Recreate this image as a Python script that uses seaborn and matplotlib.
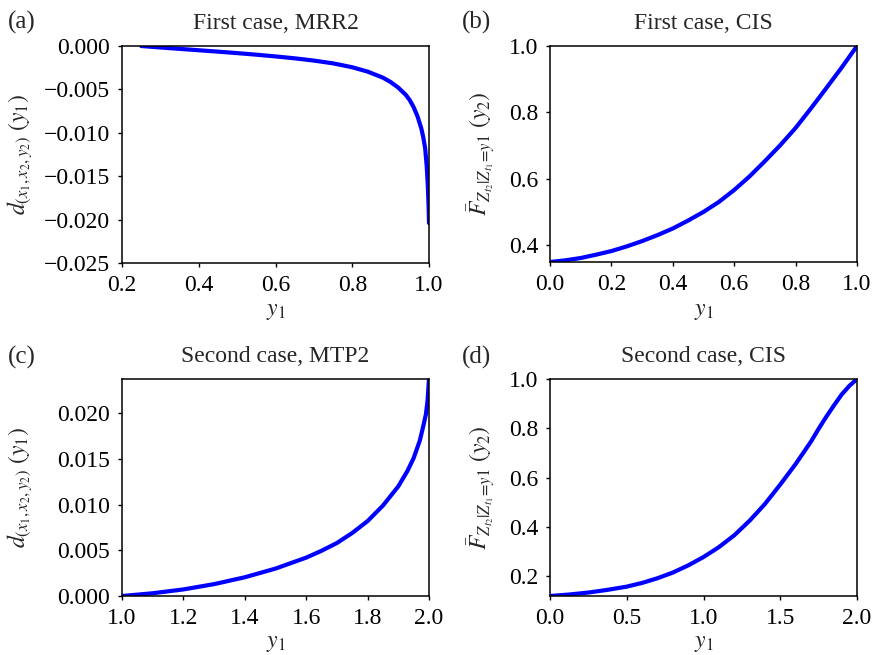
import numpy as np
import pandas as pd
import matplotlib
matplotlib.use("Agg")
import matplotlib.pyplot as plt
import seaborn as sns

# ---- data ----
a_y1 = [0.25, 0.30, 0.35, 0.40, 0.45, 0.50, 0.55, 0.60, 0.65, 0.70, 0.75, 0.80, 0.84,
        0.88, 0.90, 0.92, 0.94, 0.95, 0.96, 0.97, 0.98, 0.985, 0.99, 0.994, 0.997, 0.999, 1.0]
a_d = [0.0, -0.00017, -0.00033, -0.00049, -0.00065, -0.00082, -0.00100, -0.00120, -0.00142,
       -0.00168, -0.00200, -0.00245, -0.00295, -0.00365, -0.00415, -0.00480, -0.00565,
       -0.00625, -0.00705, -0.00810, -0.00950, -0.01050, -0.01180, -0.01380, -0.01620,
       -0.01850, -0.02040]

b_y1 = [0.0, 0.05, 0.1, 0.15, 0.2, 0.25, 0.3, 0.35, 0.4, 0.45, 0.5, 0.55, 0.6, 0.65,
        0.7, 0.75, 0.8, 0.85, 0.9, 0.95, 1.0]
b_F = [0.349, 0.354, 0.361, 0.371, 0.382, 0.396, 0.412, 0.430, 0.450, 0.474, 0.500,
       0.530, 0.566, 0.607, 0.653, 0.701, 0.753, 0.812, 0.873, 0.935, 1.0]

c_y1 = [1.0, 1.1, 1.2, 1.3, 1.4, 1.5, 1.6, 1.65, 1.7, 1.75, 1.8, 1.85, 1.9, 1.93, 1.95,
        1.97, 1.98, 1.99, 1.995, 2.0]
c_d = [0.0, 0.00030, 0.00072, 0.00130, 0.00205, 0.00300, 0.00420, 0.00495, 0.00580,
       0.00690, 0.00820, 0.00990, 0.01200, 0.01370, 0.01510, 0.01700, 0.01840, 0.01990,
       0.02130, 0.02375]

d_y1 = [0.0, 0.125, 0.25, 0.375, 0.5, 0.6, 0.7, 0.8, 0.9, 1.0, 1.1, 1.2, 1.3, 1.4, 1.5,
        1.6, 1.7, 1.75, 1.8, 1.85, 1.9, 1.95, 2.0]
d_F = [0.120, 0.126, 0.134, 0.145, 0.158, 0.173, 0.192, 0.215, 0.244, 0.278, 0.318,
       0.366, 0.425, 0.493, 0.572, 0.655, 0.746, 0.798, 0.847, 0.893, 0.937, 0.972, 1.0]

titles = ["First case, MRR2", "First case, CIS", "Second case, MTP2", "Second case, CIS"]
panel_tags = ["(a)", "(b)", "(c)", "(d)"]
ylab_d = r"$d_{(x_1,x_2,y_2)}\ (y_1)$"
ylab_F = r"$\bar{F}_{Z_{t_2}|Z_{t_1}\!=\!y1}\ (y_2)$"
xlab = r"$y_1$"

a_xticks = [0.2, 0.4, 0.6, 0.8, 1.0]
a_yticks = [0.0, -0.005, -0.010, -0.015, -0.020, -0.025]
b_xticks = [0.0, 0.2, 0.4, 0.6, 0.8, 1.0]
b_yticks = [0.4, 0.6, 0.8, 1.0]
c_xticks = [1.0, 1.2, 1.4, 1.6, 1.8, 2.0]
c_yticks = [0.0, 0.005, 0.010, 0.015, 0.020]
d_xticks = [0.0, 0.5, 1.0, 1.5, 2.0]
d_yticks = [0.2, 0.4, 0.6, 0.8, 1.0]

# ---- style ----
sns.set_theme(style="ticks")
plt.rcParams["font.family"] = ["Liberation Serif", "DejaVu Serif"]
plt.rcParams["mathtext.fontset"] = "stix"
plt.rcParams["axes.edgecolor"] = "black"
plt.rcParams["axes.linewidth"] = 1.1
plt.rcParams["xtick.color"] = "black"
plt.rcParams["ytick.color"] = "black"
plt.rcParams["xtick.major.size"] = 3
plt.rcParams["ytick.major.size"] = 3
plt.rcParams["xtick.major.width"] = 1.0
plt.rcParams["ytick.major.width"] = 1.0

fig = plt.figure(figsize=(8.75, 6.55), dpi=100)
W, H = 875.0, 655.0

def box(l, t, r, b):
    return [l / W, 1 - b / H, (r - l) / W, (b - t) / H]

boxes = [(122, 46, 429, 263), (550, 46, 857, 262), (122, 379, 429, 596), (550, 379, 857, 596)]
axes = [fig.add_axes(box(*b)) for b in boxes]

series = [(a_y1, a_d), (b_y1, b_F), (c_y1, c_d), (d_y1, d_F)]
xlims = [(0.2, 1.0), (0.0, 1.0), (1.0, 2.0), (0.0, 2.0)]
ylims = [(-0.025, 0.0), (b_F[0], 1.0), (0.0, c_d[-1]), (d_F[0], 1.0)]
xticks = [a_xticks, b_xticks, c_xticks, d_xticks]
yticks = [a_yticks, b_yticks, c_yticks, d_yticks]
yfmt = ["{:.3f}", "{:.1f}", "{:.3f}", "{:.1f}"]
ylabels = [ylab_d, ylab_F, ylab_d, ylab_F]
ylab_x = [20, 481, 20, 481]
xlab_y = [312, 312, 643, 643]

fs = 17
for i, ax in enumerate(axes):
    x, y = series[i]
    df = pd.DataFrame({"y1": x, "val": y})
    sns.lineplot(data=df, x="y1", y="val", ax=ax, color="#0000ff", linewidth=3.0,
                 estimator=None, sort=False)
    ax.set_xlim(*xlims[i])
    ax.set_ylim(*ylims[i])
    ax.set_xticks(xticks[i])
    ax.set_xticklabels([f"{t:.1f}" for t in xticks[i]], fontsize=fs)
    ax.set_yticks(yticks[i])
    ax.set_yticklabels([yfmt[i].format(t).replace("-", "\u2212") for t in yticks[i]], fontsize=fs)
    ax.tick_params(axis="both", direction="out", pad=5.5)
    l, t, r, b = boxes[i]
    ax.set_xlabel(xlab, fontsize=fs)
    ax.xaxis.set_label_coords(0.5, (b - xlab_y[i]) / (b - t))
    ax.xaxis.label.set_va("center")
    ax.set_ylabel(ylabels[i], fontsize=fs)
    ax.yaxis.set_label_coords((ylab_x[i] - l) / (r - l), 0.5)
    ax.yaxis.label.set_va("center")
    ax.set_title(titles[i], fontsize=fs, pad=12)
    for s in ax.spines.values():
        s.set_visible(True)
        s.set_color("black")

# panel tags
tag_pos = [(8, 22), (462, 22), (8, 357), (462, 357)]
for tag, (px, py) in zip(panel_tags, tag_pos):
    fig.text(px / W, 1 - py / H, tag, fontsize=18, va="center", ha="left")

fig.savefig("out.png", dpi=100)
